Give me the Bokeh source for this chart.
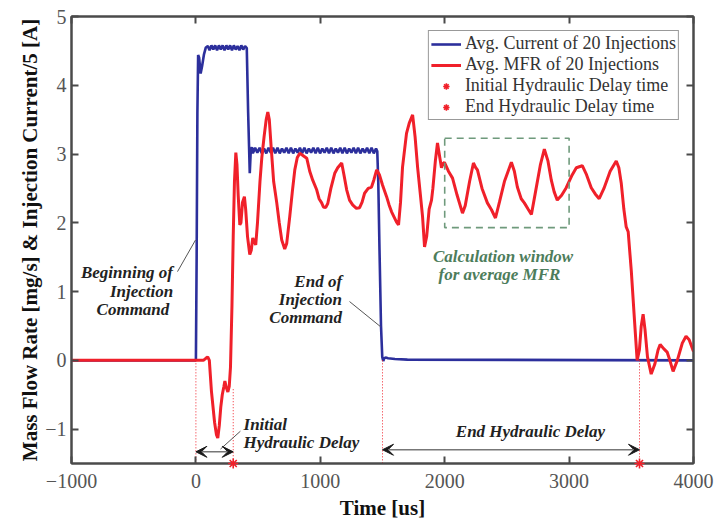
from bokeh.plotting import figure
from bokeh.models import (Range1d, LinearAxis, FixedTicker, Arrow, VeeHead,
                          Legend, LegendItem)
from bokeh.core.properties import value
from bokeh.embed import file_html
from bokeh.resources import INLINE

# Averaged injection current (divided by 5) over 20 injections
current_t = [
    -1000, 0, 6, 12, 18, 26, 38, 50, 65, 80, 96,
    110, 125, 140, 155, 170, 185, 200, 215, 230, 245,
    260, 275, 290, 305, 320, 335, 350, 365, 380, 395,
    409, 420, 433, 441, 450,
    458, 476, 494, 512, 530, 548, 566, 584, 602, 620,
    638, 656, 674, 692, 710, 728, 746, 764, 782, 800,
    818, 836, 854, 872, 890, 908, 926, 944, 962, 980,
    998, 1016, 1034, 1052, 1070, 1088, 1106, 1124, 1142, 1160,
    1178, 1196, 1214, 1232, 1250, 1268, 1286, 1304, 1322, 1340,
    1358, 1376, 1394, 1412, 1430, 1448,
    1458, 1466, 1476, 1488, 1498, 1506, 1514, 1525, 1545, 1600, 1700, 4000,
]
current_a = [
    0, 0, 1.5, 3.6, 4.44, 4.40, 4.17, 4.28, 4.45, 4.55, 4.57,
    4.51, 4.58, 4.52, 4.58, 4.51, 4.58, 4.52, 4.58, 4.51, 4.58,
    4.52, 4.58, 4.51, 4.58, 4.52, 4.57, 4.51, 4.58, 4.52, 4.57,
    4.54, 3.6, 2.72, 3.05, 3.10,
    3.01, 3.09, 3.02, 3.09, 3.01, 3.08, 3.01, 3.09, 3.02, 3.09,
    3.01, 3.09, 3.01, 3.08, 3.02, 3.09, 3.01, 3.09, 3.01, 3.08,
    3.02, 3.09, 3.01, 3.09, 3.01, 3.08, 3.02, 3.09, 3.01, 3.09,
    3.01, 3.08, 3.02, 3.09, 3.01, 3.09, 3.01, 3.08, 3.02, 3.09,
    3.01, 3.09, 3.01, 3.08, 3.02, 3.09, 3.01, 3.09, 3.01, 3.08,
    3.02, 3.09, 3.01, 3.09, 3.01, 3.08,
    3.04, 2.6, 1.6, 0.5, 0.05, -0.01, 0.03, 0.04, 0.03, 0.02, 0.01, 0.0,
]

# Averaged mass flow rate over 20 injections
mfr_t = [
    -1000, 60, 80, 95, 108, 125, 150, 165, 176, 188, 200, 212, 225, 233,
    245, 257, 268, 278, 290, 300, 310, 321, 330, 340, 353, 362, 375, 390,
    400, 415, 433, 445, 457, 470, 481, 495, 515, 530, 548, 565, 578, 590,
    605, 625, 650, 670, 690, 714, 730, 755, 775, 795, 815, 835, 860, 891,
    915, 939, 971, 990, 1011, 1025, 1043, 1060, 1085, 1116, 1140, 1172,
    1190, 1212, 1235, 1260, 1290, 1316, 1336, 1356, 1385, 1412, 1430, 1453,
    1475, 1500, 1533, 1553, 1573, 1613, 1629, 1645, 1661, 1693, 1715, 1742,
    1762, 1782, 1805, 1822, 1838, 1855, 1875, 1894, 1905, 1925, 1942, 1958,
    1974, 1986, 1998, 2030, 2063, 2100, 2143, 2165, 2200, 2231, 2250, 2263,
    2300, 2343, 2376, 2408, 2440, 2480, 2536, 2560, 2584, 2615, 2640, 2670,
    2697, 2730, 2770, 2801, 2830, 2857, 2880, 2905, 2940, 2977, 3020, 3058,
    3106, 3140, 3178, 3210, 3242, 3280, 3330, 3379, 3400, 3419, 3440, 3459,
    3475, 3500, 3525, 3547, 3565, 3580, 3595, 3610, 3630, 3660, 3690, 3715,
    3732, 3760, 3788, 3810, 3836, 3870, 3910, 3940, 3965, 4000,
]
mfr_v = [
    0, 0, 0.03, 0.05, 0.0, -0.45, -0.9, -1.08, -1.13, -0.95, -0.68, -0.5, -0.38, -0.3,
    -0.4, -0.46, -0.38, -0.1, 0.8, 1.8, 2.6, 3.02, 2.85, 2.4, 1.97, 2.0, 2.3, 2.38,
    2.2, 1.8, 1.54, 1.6, 1.78, 1.72, 1.68, 2.0, 2.6, 2.95, 3.25, 3.5, 3.61, 3.5,
    3.1, 2.6, 2.29, 2.0, 1.75, 1.62, 1.7, 2.1, 2.45, 2.77, 2.95, 3.01, 2.98, 2.94,
    2.75, 2.62, 2.48, 2.35, 2.29, 2.23, 2.22, 2.28, 2.5, 2.72, 2.8, 2.87,
    2.7, 2.48, 2.33, 2.26, 2.21, 2.22, 2.3, 2.43, 2.5, 2.52, 2.62, 2.77,
    2.7, 2.55, 2.38, 2.26, 2.16, 2.01, 1.97, 2.3, 2.81, 3.30, 3.45, 3.57,
    3.25, 2.81, 2.4, 2.09, 1.65, 1.8, 2.2, 2.33, 2.5, 2.9, 3.16, 2.98,
    2.80, 2.86, 2.88, 2.75, 2.65, 2.4, 2.14, 2.25, 2.6, 2.87, 2.8, 2.77,
    2.5, 2.29, 2.19, 2.07, 2.3, 2.6, 2.88, 2.75, 2.52, 2.35, 2.29, 2.2,
    2.12, 2.45, 2.85, 3.07, 2.9, 2.62, 2.45, 2.33, 2.4, 2.51, 2.68, 2.80,
    2.83, 2.7, 2.51, 2.42, 2.35, 2.5, 2.75, 2.90, 2.8, 2.58, 2.2, 1.94,
    1.87, 1.3, 0.6, 0.0, 0.15, 0.5, 0.67, 0.45, 0.05, -0.2, -0.05, 0.15,
    0.23, 0.17, 0.12, 0.0, -0.16, 0.0, 0.25, 0.35, 0.3, 0.13,
]

x_ticks = [-1000, 0, 1000, 2000, 3000, 4000]
y_ticks = [-1, 0, 1, 2, 3, 4, 5]

# Event times [us]
cmd_start = 0
cmd_end = 1500
hyd_start = 300
hyd_end = 3566
hyd_start_level = -0.42

# Averaging window for the flow rate
win_t = [2000, 3000]
win_v = [1.93, 3.23]

BLUE = "#2c2f9c"
RED = "#f0202a"
GREEN = "#6f9a7c"
FRAME = "#4a4a4a"
SERIF = "Liberation Serif"

y_min, y_max = -1.5, 5

p = figure(width=717, height=522, output_backend="svg", toolbar_location=None,
           x_range=Range1d(-1000, 4000), y_range=Range1d(y_min, y_max),
           min_border_left=71, min_border_right=24, min_border_top=16,
           min_border_bottom=59)
p.grid.visible = False
p.outline_line_color = FRAME
p.outline_line_width = 2
p.background_fill_color = "white"
p.border_fill_color = "white"

def style_axis(ax, labels=True):
    ax.axis_line_color = FRAME
    ax.axis_line_width = 2
    ax.major_tick_line_color = FRAME
    ax.major_tick_line_width = 2
    ax.major_tick_in = 7
    ax.major_tick_out = 0
    ax.minor_tick_line_color = None
    if labels:
        ax.major_label_text_font = SERIF
        ax.major_label_text_font_size = "20px"
        ax.major_label_text_color = "#555555"
        ax.axis_label_text_font = SERIF
        ax.axis_label_text_font_style = "bold"
        ax.axis_label_text_font_size = "21px"
        ax.axis_label_text_color = "#111111"
    else:
        # frame-side ticks only, no numbers
        ax.major_label_text_font_size = "1px"
        ax.major_label_text_color = None
        ax.major_label_standoff = 0

p.xaxis.ticker = FixedTicker(ticks=x_ticks)
p.yaxis.ticker = FixedTicker(ticks=y_ticks)
p.xaxis.axis_label = "Time [us]"
p.yaxis.axis_label = "Mass Flow Rate [mg/s] & Injection Current/5 [A]"
p.xaxis.major_label_standoff = 10
p.yaxis.major_label_standoff = 5
p.xaxis.axis_label_standoff = 5
p.yaxis.axis_label_standoff = 0
style_axis(p.xaxis[0])
style_axis(p.yaxis[0])

top_ax = LinearAxis(ticker=FixedTicker(ticks=x_ticks))
right_ax = LinearAxis(ticker=FixedTicker(ticks=y_ticks))
style_axis(top_ax, labels=False)
style_axis(right_ax, labels=False)
p.add_layout(top_ax, "above")
p.add_layout(right_ax, "right")

# Curves
r_cur = p.line(current_t, current_a, line_color=BLUE, line_width=2.6)
r_mfr = p.line(mfr_t, mfr_v, line_color=RED, line_width=3)

# Dotted event markers down to the time axis
p.segment(x0=[cmd_start, hyd_start, cmd_end, hyd_end],
          y0=[0, hyd_start_level, 0, 0],
          x1=[cmd_start, hyd_start, cmd_end, hyd_end],
          y1=[y_min] * 4, line_color=RED, line_width=1, line_dash="1 2")

r_hs = p.scatter([hyd_start], [y_min], marker="asterisk", size=10,
                 line_color=RED, line_width=1.6, level="overlay")
r_he = p.scatter([hyd_end], [y_min], marker="asterisk", size=10,
                 line_color=RED, line_width=1.6, level="overlay")

# Delay arrows
def delay_arrow(x0, x1, y):
    head = dict(size=11, fill_color="#1a1a1a", line_color="#1a1a1a")
    p.add_layout(Arrow(x_start=x0, y_start=y, x_end=x1, y_end=y,
                       start=VeeHead(**head), end=VeeHead(**head),
                       line_color="#777777", line_width=1.5))

delay_arrow(cmd_start, hyd_start, -1.33)
delay_arrow(cmd_end, hyd_end, -1.30)

# Averaging window
p.quad(left=win_t[0], right=win_t[1], bottom=win_v[0], top=win_v[1],
       fill_color=None, line_color=GREEN, line_width=1.6, line_dash="7 5")

# Leader lines
p.segment(x0=[-148, 1235, 198], y0=[1.29, 0.855, -1.29],
          x1=[-3, 1484, 358], y1=[1.75, 0.49, -1.03],
          line_color="#555555", line_width=1)

note = dict(text_font=value(SERIF), text_font_style="bold italic",
            text_font_size="17px", text_baseline="middle", text_color="#222222")

p.text(x=[-554, -437, -506], y=[1.275, 1.0, 0.74],
       text=["Beginning of", "Injection", "Command"], text_align="center", **note)
p.text(x=[1175, 1175, 1175], y=[1.145, 0.884, 0.623],
       text=["End of", "Injection", "Command"], text_align="right", **note)
p.text(x=[383, 383], y=[-0.93, -1.19],
       text=["Initial", "Hydraulic Delay"], text_align="left", **note)
p.text(x=[2689], y=[-1.04], text=["End Hydraulic Delay"], text_align="center", **note)

green_note = dict(note)
green_note["text_color"] = "#4d7d5b"
p.text(x=[2469, 2440], y=[1.51, 1.25],
       text=["Calculation window", "for average MFR"], text_align="center", **green_note)

legend = Legend(items=[
    LegendItem(label="Avg. Current of 20 Injections", renderers=[r_cur]),
    LegendItem(label="Avg. MFR of 20 Injections", renderers=[r_mfr]),
    LegendItem(label="Initial Hydraulic Delay time", renderers=[r_hs]),
    LegendItem(label="End Hydraulic Delay time", renderers=[r_he]),
])
legend.location = "top_right"
legend.margin = 14
legend.padding = 2
legend.spacing = 0
legend.glyph_width = 30
legend.glyph_height = 16
legend.label_height = 16
legend.label_standoff = 4
legend.label_text_font = SERIF
legend.label_text_font_size = "18px"
legend.label_text_color = "#333333"
legend.border_line_color = "#333333"
legend.border_line_width = 1.5
legend.background_fill_alpha = 1
p.add_layout(legend)

open("out.html", "w").write(file_html(p, INLINE))
